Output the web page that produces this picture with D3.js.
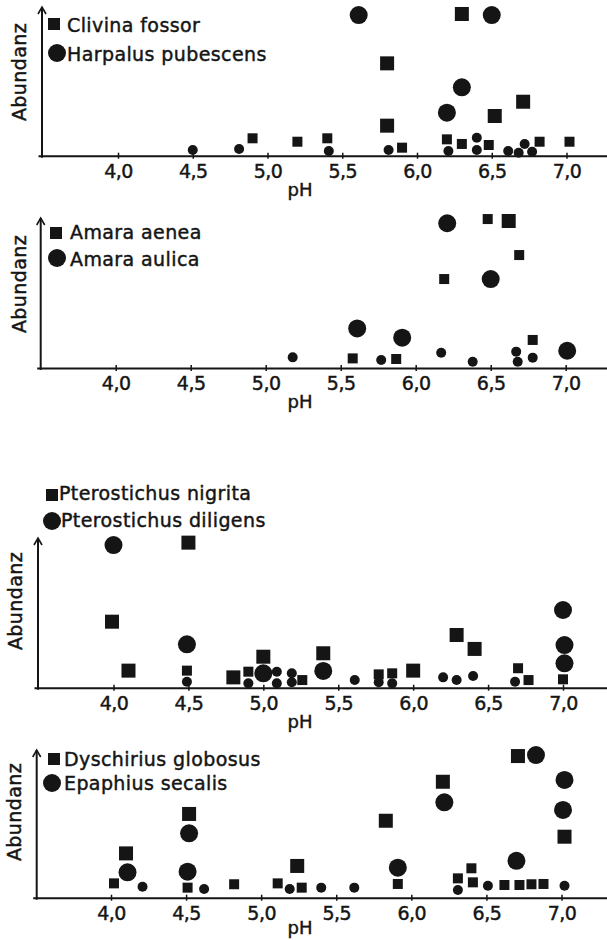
<!DOCTYPE html>
<html>
<head>
<meta charset="utf-8">
<script src="https://cdn.jsdelivr.net/npm/d3@7"></script>
<style>
	body { margin: 0; background: #fff; }
	svg text { font-family: "DejaVu Sans", sans-serif; fill: #151515; stroke: #151515; stroke-width: 0.45; }
</style>
</head>
<body>
<svg id="chart" width="607" height="940"></svg>
<script>

// tick labels and axis titles
const PH_TICKS = [4.0, 4.5, 5.0, 5.5, 6.0, 6.5, 7.0];
const X_TITLE = "pH";
const Y_TITLE = "Abundanz";

// [pH, abundance (0-100 = arrow tip), big symbol 0/1]
const clivina_fossor = [[4.9, 11.7, 0], [5.2, 9.4, 0], [5.4, 11.7, 0], [5.8, 62.1, 1], [5.8, 20.2, 1], [5.9, 5.4, 0],
	[6.2, 11.0, 0], [6.3, 95.3, 1], [6.3, 7.9, 0], [6.48, 7.2, 0], [6.52, 26.7, 1], [6.71, 36.3, 1], [6.82, 9.4, 0], [7.02, 9.4, 0]];
const harpalus_pubescens = [[4.5, 3.8, 0], [4.81, 4.5, 0], [5.41, 3.2, 0], [5.61, 94.6, 1], [5.81, 3.8, 0], [6.2, 28.9, 1],
	[6.21, 3.2, 0], [6.3, 46.0, 1], [6.4, 12.1, 0], [6.4, 3.8, 0], [6.5, 94.6, 1], [6.61, 3.2, 0], [6.68, 2.0, 0], [6.72, 7.9, 0], [6.77, 2.7, 0]];

const amara_aenea = [[5.58, 6.4, 0], [5.87, 6.0, 0], [6.19, 59.3, 0], [6.48, 99.3, 0], [6.62, 98.0, 1], [6.69, 75.3, 0], [6.78, 18.7, 0]];
const amara_aulica = [[5.18, 7.1, 0], [5.61, 26.4, 1], [5.77, 5.3, 0], [5.91, 20.2, 1], [6.17, 10.2, 0], [6.21, 96.5, 1],
	[6.38, 4.2, 0], [6.5, 59.3, 1], [6.67, 10.9, 0], [6.68, 4.2, 0], [6.78, 6.9, 0], [7.01, 11.5, 1]];

const pterostichus_nigrita = [[3.99, 44.1, 1], [4.1, 11.4, 1], [4.5, 96.9, 1], [4.49, 11.4, 0], [4.8, 6.9, 1], [4.9, 10.7, 0],
	[5.0, 20.7, 1], [5.26, 5.1, 0], [5.4, 23.0, 1], [5.77, 8.9, 0], [5.86, 9.6, 0], [6.0, 11.4, 1], [6.29, 35.2, 1],
	[6.41, 25.9, 1], [6.7, 13.0, 0], [6.77, 5.1, 0], [7.0, 5.6, 0]];
const pterostichus_diligens = [[4.0, 95.3, 1], [4.49, 29.0, 1], [4.49, 4.0, 0], [4.9, 2.9, 0], [5.0, 9.6, 1], [5.09, 10.7, 0],
	[5.09, 2.9, 0], [5.19, 9.6, 0], [5.19, 3.6, 0], [5.4, 11.2, 1], [5.61, 5.1, 0], [5.77, 3.6, 0], [5.86, 2.9, 0],
	[6.2, 6.9, 0], [6.29, 5.1, 0], [6.4, 7.8, 0], [6.68, 4.0, 0], [7.0, 51.9, 1], [7.01, 28.5, 1], [7.01, 16.3, 1]];

const dyschirius_globosus = [[4.02, 9.7, 0], [4.1, 30.0, 1], [4.51, 6.8, 0], [4.52, 56.7, 1], [4.82, 9.1, 0], [5.11, 9.7, 0],
	[5.24, 21.5, 1], [5.27, 6.8, 0], [5.83, 52.1, 1], [5.91, 9.3, 0], [6.21, 78.5, 1], [6.31, 13.1, 0], [6.4, 19.9, 0],
	[6.41, 10.4, 0], [6.62, 8.6, 0], [6.71, 95.9, 1], [6.72, 8.6, 0], [6.8, 9.1, 0], [6.88, 9.3, 0], [7.02, 41.3, 1]];
const epaphius_secalis = [[4.11, 17.2, 1], [4.21, 7.4, 0], [4.51, 17.6, 1], [4.52, 43.6, 1], [4.62, 5.9, 0], [5.19, 5.9, 0],
	[5.4, 6.8, 0], [5.62, 6.8, 0], [5.91, 20.3, 1], [6.22, 64.6, 1], [6.31, 5.2, 0], [6.51, 8.1, 0], [6.7, 25.0, 1],
	[6.83, 96.6, 1], [7.01, 59.4, 1], [7.02, 79.7, 1], [7.02, 8.1, 0]];

const SPECIES = [
	["Clivina fossor", "Harpalus pubescens"],
	["Amara aenea", "Amara aulica"],
	["Pterostichus nigrita", "Pterostichus diligens"],
	["Dyschirius globosus", "Epaphius secalis"]
];
const SERIES = [
	[clivina_fossor, harpalus_pubescens],
	[amara_aenea, amara_aulica],
	[pterostichus_nigrita, pterostichus_diligens],
	[dyschirius_globosus, epaphius_secalis]
];

// layout of the four panels (svg space)
const LAYOUT = [
	{left: 42, top: 7, base: 155.7, x4: 118, x7: 566.5, sq: [48, 18], sqText: [67, 32], circ: [57, 53], circText: [67, 61], title: [20, 72]},
	{left: 40.7, top: 218, base: 368, x4: 115.7, x7: 565.7, sq: [50, 227], sqText: [70, 239], circ: [57, 258], circText: [70, 266], title: [20, 284]},
	{left: 38, top: 538, base: 687.7, x4: 113.5, x7: 563, sq: [46, 489], sqText: [59, 500], circ: [52, 521], circText: [61, 527], title: [16, 601]},
	{left: 36.7, top: 750, base: 897.7, x4: 111, x7: 561.5, sq: [48, 753], sqText: [64, 766], circ: [52, 783], circText: [64, 790], title: [15, 812]}
];

const INK = "#151515";
const squareSide = d3.scaleOrdinal().domain([0, 1]).range([10, 14]);
const circleR = d3.scaleOrdinal().domain([0, 1]).range([5, 9]);
const phFormat = d => d3.format(".1f")(d).replace(".", ",");

const svg = d3.select("#chart");

function drawPanel(p, series, names) {
	const g = svg.append("g");

	const x = d3.scaleLinear().domain([4, 7]).range([p.x4, p.x7]);
	const y = d3.scaleLinear().domain([0, 100]).range([p.base, p.top]);

	// x axis runs from just left of the y axis to the page edge
	const xa = x.copy().domain([x.invert(p.left - 4), x.invert(607)]).range([p.left - 4, 607]);
	const axis = g.append("g")
		.attr("transform", `translate(0,${p.base})`)
		.call(d3.axisBottom(xa).tickValues(PH_TICKS).tickFormat(phFormat).tickSizeOuter(0));
	axis.select(".domain").attr("stroke", INK).attr("stroke-width", 2);
	axis.selectAll(".tick line").attr("y1", -3).attr("y2", 3).attr("stroke", INK).attr("stroke-width", 1.5);
	axis.selectAll(".tick text")
		.attr("y", 22).attr("dy", null)
		.attr("font-size", 19).attr("font-family", "DejaVu Sans Condensed, DejaVu Sans, sans-serif")
		.attr("letter-spacing", -0.5)
		.attr("fill", INK);

	g.append("text")
		.attr("x", 300).attr("y", Math.min(p.base + 40, 934))
		.attr("text-anchor", "middle")
		.attr("font-size", 18)
		.text(X_TITLE);

	// y axis with arrow
	g.append("line")
		.attr("x1", p.left).attr("x2", p.left)
		.attr("y1", p.base + 2).attr("y2", y(100))
		.attr("stroke", INK).attr("stroke-width", 2);
	g.append("path")
		.attr("d", `M${p.left - 4},${y(100) + 7}L${p.left},${y(100)}L${p.left + 4},${y(100) + 7}`)
		.attr("fill", "none").attr("stroke", INK).attr("stroke-width", 1.6);

	g.append("text")
		.attr("transform", `translate(${p.title[0] + 6},${p.title[1]}) rotate(-90)`)
		.attr("text-anchor", "middle")
		.attr("font-size", 19)
		.attr("letter-spacing", 0.4)
		.text(Y_TITLE);

	// data
	g.append("g").selectAll("rect")
		.data(series[0])
		.enter()
		.append("rect")
			.attr("x", d => x(d[0]) - squareSide(d[2]) / 2)
			.attr("y", d => y(d[1]) - squareSide(d[2]) / 2)
			.attr("width", d => squareSide(d[2]))
			.attr("height", d => squareSide(d[2]))
			.attr("fill", INK);

	g.append("g").selectAll("circle")
		.data(series[1])
		.enter()
		.append("circle")
			.attr("cx", d => x(d[0]))
			.attr("cy", d => y(d[1]))
			.attr("r", d => circleR(d[2]))
			.attr("fill", INK);

	// legend
	g.append("rect")
		.attr("x", p.sq[0]).attr("y", p.sq[1])
		.attr("width", 12).attr("height", 12)
		.attr("fill", INK);
	g.append("circle")
		.attr("cx", p.circ[0]).attr("cy", p.circ[1])
		.attr("r", 9)
		.attr("fill", INK);
	g.append("text")
		.attr("x", p.sqText[0]).attr("y", p.sqText[1])
		.attr("font-size", 19).attr("letter-spacing", 0.4)
		.text(names[0]);
	g.append("text")
		.attr("x", p.circText[0]).attr("y", p.circText[1])
		.attr("font-size", 19).attr("letter-spacing", 0.4)
		.text(names[1]);
}

LAYOUT.forEach((p, i) => drawPanel(p, SERIES[i], SPECIES[i]));

</script>
</body>
</html>
